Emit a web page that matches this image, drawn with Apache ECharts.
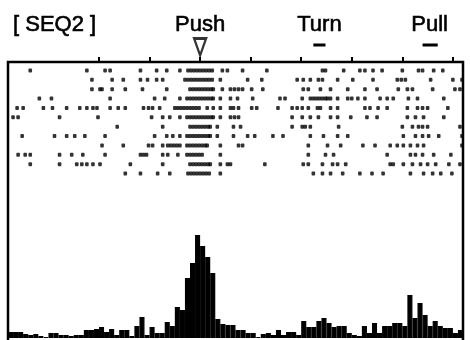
<!DOCTYPE html>
<html lang="en">
<head>
    <meta charset="UTF-8">
    <title>SEQ2 raster</title>
    <style>
        html, body { margin: 0; padding: 0; background: #fff; }
        #main { width: 470px; height: 340px; }
    </style>
</head>
<body>
<div id="main"></div>
<script src="https://cdn.jsdelivr.net/npm/echarts@6/dist/echarts.min.js"></script>
<script>
    // spike times (ms, relative to Push) for each trial, top row first
    const trial01 = [-1680, -1120, -940, -890, -590, -430, -330, -200, -120, -90, -60, -30, 0, 30, 60, 90, 120, 220, 270, 420, 660, 1210, 1240, 1420, 1580, 1630, 1710, 1800, 2000, 2160, 2200, 2310, 2400];
    const trial02 = [-1070, -870, -760, -590, -520, -430, -370, -150, -120, -90, -60, -30, 0, 30, 60, 90, 120, 200, 470, 610, 960, 1020, 1090, 1170, 1210, 1360, 1510, 1710, 1950, 1990, 2030, 2280, 2500, 2590];
    const trial03 = [-1070, -990, -970, -870, -740, -570, -330, -100, -70, -40, -10, 20, 50, 80, 110, 130, 220, 300, 340, 380, 420, 510, 620, 1020, 1070, 1190, 1290, 1460, 1630, 1750, 1960, 2050, 2100, 2300, 2520, 2570];
    const trial04 = [-1590, -1470, -890, -450, -350, -200, -130, -100, -70, -40, -10, 20, 50, 80, 110, 130, 200, 300, 370, 520, 790, 840, 1010, 1090, 1120, 1150, 1180, 1210, 1240, 1260, 1290, 1360, 1460, 1500, 1560, 1630, 1780, 1850, 1910, 2060, 2150, 2410];
    const trial05 = [-1810, -1750, -1550, -1460, -1320, -1190, -1120, -1060, -1020, -890, -810, -740, -560, -510, -470, -400, -250, -220, -190, -160, -130, -100, -70, -40, -10, 70, 130, 200, 300, 330, 380, 510, 560, 770, 910, 960, 1010, 1070, 1160, 1190, 1290, 1360, 1630, 1680, 1760, 1850, 2050, 2150, 2200, 2250, 2450];
    const trial06 = [-1850, -1800, -1390, -1010, -480, -370, -300, -200, -130, -100, -70, -40, -10, 20, 50, 80, 110, 130, 200, 300, 340, 380, 910, 1010, 1090, 1170, 1290, 1360, 1490, 1650, 1750, 2050, 2130, 2210, 2410];
    const trial07 = [-820, -370, -100, -70, -40, -10, 20, 50, 80, 100, 170, 330, 400, 910, 1010, 1040, 1090, 1370, 2000, 2100, 2160, 2200, 2250, 2570];
    const trial08 = [-1760, -1440, -1320, -1240, -1140, -940, -450, -330, -270, -200, -130, -100, -70, -40, -10, 20, 50, 80, 100, 170, 330, 470, 540, 720, 820, 1090, 1220, 1360, 1460, 2010, 2130, 2200, 2260, 2360, 2590];
    const trial09 = [-970, -760, -510, -470, -370, -320, -290, -260, -230, -200, -130, -100, -70, -40, -10, 20, 50, 70, 200, 380, 420, 1070, 1260, 1390, 1610, 1730, 1880, 1950, 2010, 2080, 2150, 2210, 2590];
    const trial10 = [-1800, -1730, -1680, -1390, -1270, -1160, -940, -590, -560, -530, -370, -320, -220, -130, -100, -70, -40, -10, 20, 200, 1070, 1240, 1320, 1850, 2080, 2130, 2200, 2310, 2480];
    const trial11 = [-1680, -1390, -1220, -1170, -1120, -1060, -990, -690, -370, -100, -70, -40, -10, 20, 50, 80, 100, 200, 270, 300, 640, 1020, 1070, 1210, 1310, 1360, 1440, 1880, 1910, 2010, 2100, 2180, 2250, 2330, 2460, 2570];
    const trial12 = [-740, -590, -420, -300, -120, -90, -60, -30, 0, 30, 60, 90, 200, 1120, 1210, 1290, 1410, 1580, 1700, 1810, 2080, 2210, 2300, 2380, 2490];
    const trials = [trial01, trial02, trial03, trial04, trial05, trial06, trial07, trial08, trial09, trial10, trial11, trial12];

    // peri-event histogram, 50 ms bins from -1900 ms
    const psthRate = [6, 6, 6, 4, 3, 4, 2, 1, 5, 5, 3, 3, 2, 3, 3, 8, 8, 9, 11, 6,
        9, 3, 8, 8, 2, 12, 21, 3, 11, 5, 5, 16, 12, 31, 28, 60, 75, 103, 92, 81,
        65, 19, 14, 13, 13, 8, 8, 5, 5, 1, 4, 5, 3, 8, 3, 6, 6, 3, 17, 11,
        11, 17, 20, 15, 11, 12, 12, 5, 3, 2, 12, 5, 15, 5, 12, 12, 15, 15, 12, 43,
        20, 35, 23, 12, 17, 12, 10, 10, 5, 8];

    const tickTimes = [-1000, -500, 0, 500, 1000, 1500, 2000, 2500];
    const eventNames = ['Push', 'Turn', 'Pull'];
    const eventTimes = [0, 1180, 2270];
    const turnRange = [1120, 1240];
    const pullRange = [2200, 2350];

    const tMin = -1900, tMax = 2600, binMs = 50;
    const binStarts = psthRate.map((_, i) => tMin + i * binMs);

    const font = "'Liberation Sans', Arial, sans-serif";

    const rasterData = [];
    trials.forEach(function (times, row) {
        times.forEach(function (t) { rasterData.push([t, row + 1]); });
    });

    const myChart = echarts.init(document.getElementById('main'));
    myChart.setOption({
        animation: false,
        title: {
            text: '[ SEQ2 ]',
            left: 8,
            top: 9,
            textStyle: {
                fontFamily: font, fontSize: 22, fontWeight: 'normal', color: '#000',
                textBorderColor: '#000', textBorderWidth: 0.6
            }
        },
        grid: [
            // outer frame
            { left: 8, right: 7, top: 62, bottom: -6, show: true, borderColor: '#000', borderWidth: 2.5, outerBoundsMode: 'none' },
            // raster
            { left: 8, right: 7, top: 61, height: 122, outerBoundsMode: 'none' },
            // histogram
            { left: 8, right: 7, bottom: 2, height: 112, outerBoundsMode: 'none' },
            // event markers above the frame
            { left: 8, right: 7, top: 36, height: 20, outerBoundsMode: 'none' }
        ],
        xAxis: [
            { gridIndex: 0, type: 'value', show: false, min: 0, max: 1 },
            {
                gridIndex: 1, type: 'value', position: 'top', min: tMin, max: tMax,
                axisLine: { show: false },
                splitLine: { show: false },
                axisTick: {
                    show: true, inside: false, length: 4, customValues: tickTimes,
                    lineStyle: { color: '#000', width: 2 }
                },
                axisLabel: {
                    customValues: eventTimes,
                    formatter: function (v) { return eventNames[eventTimes.indexOf(v)]; },
                    margin: 25, fontSize: 22, color: '#000', fontFamily: font,
                    textBorderColor: '#000', textBorderWidth: 0.6
                }
            },
            { gridIndex: 2, type: 'category', data: binStarts, show: false, boundaryGap: true },
            { gridIndex: 3, type: 'value', min: tMin, max: tMax, show: false }
        ],
        yAxis: [
            { gridIndex: 0, type: 'value', show: false, min: 0, max: 1 },
            { gridIndex: 1, type: 'value', min: 0, max: 13, inverse: true, show: false },
            { gridIndex: 2, type: 'value', min: 0, max: 112, show: false },
            { gridIndex: 3, type: 'value', min: 0, max: 1, show: false }
        ],
        series: [
            {
                type: 'scatter', xAxisIndex: 1, yAxisIndex: 1,
                data: rasterData,
                symbol: 'roundRect', symbolSize: [3.6, 4],
                itemStyle: { color: '#000' },
                silent: true
            },
            {
                type: 'bar', xAxisIndex: 2, yAxisIndex: 2,
                data: psthRate,
                barCategoryGap: '0%',
                itemStyle: { color: '#000', borderColor: '#000', borderWidth: 1.2 },
                silent: true
            },
            {
                type: 'line', xAxisIndex: 3, yAxisIndex: 3,
                data: [[turnRange[0], 0.55], [turnRange[1], 0.55]],
                symbol: 'none', lineStyle: { color: '#000', width: 3 }, silent: true
            },
            {
                type: 'line', xAxisIndex: 3, yAxisIndex: 3,
                data: [[pullRange[0], 0.55], [pullRange[1], 0.55]],
                symbol: 'none', lineStyle: { color: '#000', width: 3 }, silent: true
            },
            {
                // Push marker
                type: 'scatter', xAxisIndex: 3, yAxisIndex: 3,
                data: [[eventTimes[0], 0.45]],
                symbol: 'path://M0,0 L12,0 L6,17 Z',
                symbolSize: [12, 17],
                itemStyle: { color: '#fff', borderColor: '#000', borderWidth: 2.5 },
                silent: true
            }
        ]
    });
</script>
</body>
</html>
